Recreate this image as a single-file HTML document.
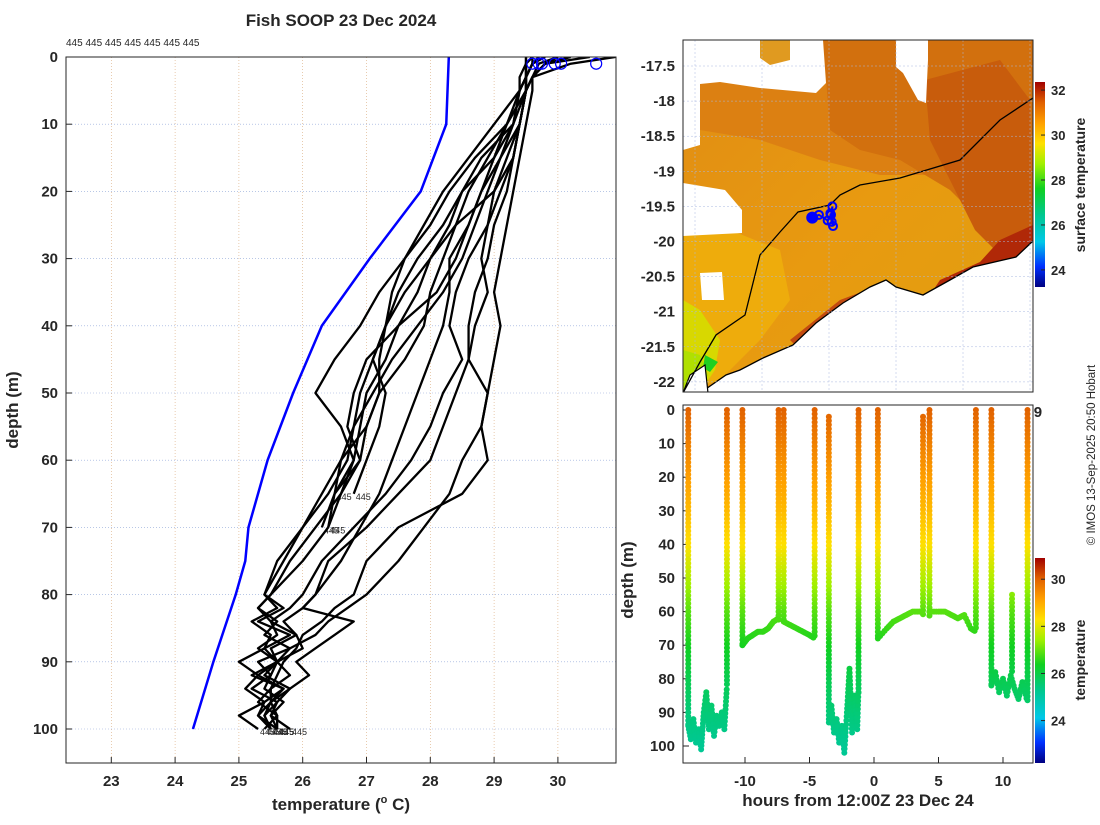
<!DOCTYPE html>
<html><head><meta charset="utf-8"><style>
body{margin:0;background:#fff}
svg text{font-family:"Liberation Sans","DejaVu Sans",sans-serif;fill:#262626}
.tk{font-size:15px;font-weight:bold}
</style></head><body>
<svg id="s" width="1100" height="820" viewBox="0 0 1100 820" xmlns="http://www.w3.org/2000/svg">
<defs>
<linearGradient id="cm" x1="0" y1="1" x2="0" y2="0">
<stop offset="0" stop-color="#000080"/><stop offset="0.1" stop-color="#0030ff"/><stop offset="0.22" stop-color="#00c8e8"/><stop offset="0.35" stop-color="#00c890"/><stop offset="0.48" stop-color="#10d020"/><stop offset="0.6" stop-color="#a0f000"/><stop offset="0.7" stop-color="#ffe000"/><stop offset="0.8" stop-color="#ffa000"/><stop offset="0.9" stop-color="#e06000"/><stop offset="1" stop-color="#a00000"/>
</linearGradient>
<linearGradient id="seaL" x1="0" y1="0" x2="1" y2="1">
<stop offset="0" stop-color="#e08c14"/><stop offset="0.5" stop-color="#e89a10"/><stop offset="1" stop-color="#e0a010"/>
</linearGradient>
<clipPath id="mapclip"><rect x="683" y="40" width="350" height="352"/></clipPath>
<clipPath id="lclip"><rect x="66" y="57" width="550" height="706"/></clipPath>
</defs>
<g id="left"></g>
<g id="map"></g>
<g id="bot"></g>
<text x="341" y="26" text-anchor="middle" style="font-size:17px;font-weight:bold">Fish SOOP 23 Dec 2024</text>
<text x="66" y="46" style="font-size:10px">445 445 445 445 445 445 445</text>
<text transform="translate(18,410) rotate(-90)" text-anchor="middle" class="tk" style="font-size:17px">depth (m)</text>
<text x="341" y="810" text-anchor="middle" class="tk" style="font-size:17px">temperature (<tspan dy="-7" style="font-size:11px">o</tspan><tspan dy="7"> C)</tspan></text>
<text transform="translate(633,580) rotate(-90)" text-anchor="middle" class="tk" style="font-size:17px">depth (m)</text>
<text x="858" y="806" text-anchor="middle" class="tk" style="font-size:17px">hours from 12:00Z 23 Dec 24</text>
<text transform="translate(1085,185) rotate(-90)" text-anchor="middle" class="tk" style="font-size:14px">surface temperature</text>
<text transform="translate(1085,660) rotate(-90)" text-anchor="middle" class="tk" style="font-size:14px">temperature</text>
<text transform="translate(1095,455) rotate(-90)" text-anchor="middle" style="font-size:11.5px">© IMOS 13-Sep-2025 20:50 Hobart</text>
</svg>
<script>
// ---------- data: left profile plot ----------
const depthGrid=[0,1,3,5,10,15,20,25,30,35,40,45,50,55,60,65,70,75,80,82,84,86,88,90,92,94,96,98,100];
const blueDepths=[0,10,20,30,40,50,60,70,75,80,90,100];
const blueTemps=[28.29,28.25,27.85,27.05,26.3,25.85,25.45,25.15,25.1,24.95,24.6,24.28];
const prof1=[30.9,30.2,29.6,29.5,29.4,29.1,28.8,28.6,28.4,28.1,27.5,27.0,26.8,26.7,26.9,26.5];
const prof2=[30.5,29.8,29.6,29.5,29.3,29.0,28.5,28.2,27.8,27.5,27.3,27.2,27.2,27.0,26.6,26.5,26.4];
const prof3=[30.0,29.7,29.6,29.5,29.2,28.7,28.3,28.0,27.6,27.2,26.9,26.5,26.2,26.6,26.8,26.5,26.3];
const prof4=[29.7,29.6,29.5,29.5,29.4,29.3,29.0,28.4,28.0,27.6,27.3,27.1,27.3,27.2,27.0,26.8];
const prof5=[30.0,29.8,29.6,29.6,29.5,29.4,29.3,29.2,29.1,29.0,29.1,29.0,28.9,28.8,28.9,28.5,27.5,27.0,26.8,26.5,26.3,26.0,25.9,25.7,25.6,25.5,25.5,25.4,25.5];
const prof6=[29.7,29.6,29.5,29.5,29.4,29.2,29.0,28.9,28.8,28.9,28.7,28.6,28.9,28.8,28.5,28.3,27.9,27.5,27.0,26.7,26.4,26.2,25.8,25.6,25.5,25.4,25.7,25.5,25.6];
const prof7=[29.6,29.5,29.5,29.4,29.2,29.0,28.8,28.6,28.3,28.3,28.2,28.0,27.8,27.6,27.4,27.2,26.9,26.6,26.2,26.0,25.7,25.9,25.5,25.6,25.3,25.7,25.4,25.3,25.5];
const prof8=[29.5,29.5,29.4,29.4,29.3,28.8,28.5,28.3,28.0,27.8,27.5,27.3,27.0,26.9,26.8,26.6,26.4,26.0,25.5,25.3,25.6,25.4,25.8,25.3,25.5,25.2,25.6,25.4,25.5];
const prof9=[29.6,29.6,29.5,29.5,29.4,29.3,29.1,28.9,28.6,28.4,28.3,28.5,28.2,28.0,27.7,27.3,26.8,26.3,26.0,25.8,25.5,25.9,26.0,25.6,25.8,25.5,25.3,25.6,25.4];
const prof10=[29.5,29.5,29.5,29.4,29.0,28.6,28.2,27.9,27.6,27.4,27.3,27.1,26.9,26.8,26.7,26.4,26.0,25.6,25.4,25.6,25.2,25.5,25.4,25.0,25.3,25.1,25.4,25.0,25.3];
const prof11=[29.8,29.6,29.5,29.5,29.4,29.3,29.2,29.0,28.9,28.7,28.6,28.6,28.4,28.2,28.0,27.5,27.0,26.4,26.2,26.0,26.8,26.5,26.2,25.9,26.1,25.8,25.6,25.5,25.8];
const prof12=[30.2,29.8,29.6,29.5,29.2,28.9,28.6,28.4,28.2,28.0,27.9,27.6,27.2,27.0,26.9,26.6,26.2,25.8,25.5,25.3,25.5,25.6,25.3,25.6,25.4,25.8,25.5,25.6,25.6];
const prof13=[29.6,29.5,29.5,29.4,29.3,29.1,28.9,28.7,28.5,28.2,27.8,27.4,27.1,26.8,26.6,26.3,26.0,25.7,25.4,25.7,25.3,25.8,25.4,25.6,25.2,25.7,25.5,25.3,25.6];
const surfTemps=[29.6,29.7,29.75,29.95,30.05,30.6];
const leftXTicks=[23,24,25,26,27,28,29,30];
const leftYTicks=[0,10,20,30,40,50,60,70,80,90,100];
// ---------- data: depth-time plot ----------
const castHours=[-14.4,-11.4,-10.2,-7.4,-7.0,-4.6,-3.5,-1.2,0.3,3.8,4.3,7.9,9.1,10.7,11.9];
const castTop=[0,0,0,0,0,0,2,0,0,2,0,0,0,55,0];
const castBottom=[94,82,70,63,63,68,93,85,68,62,62,66,82,78,87];
const trackHours=[
 [-14.4,-14.2,-14.0,-13.8,-13.6,-13.4,-13.2,-13.0,-12.8,-12.6,-12.4,-12.2,-12.0,-11.8,-11.6,-11.4],
 [-3.5,-3.3,-3.1,-2.9,-2.7,-2.5,-2.3,-2.1,-1.9,-1.7,-1.5,-1.3,-1.2],
 [9.1,9.4,9.7,10.0,10.3,10.6,10.9,11.2,11.5,11.9],
 [-10.2,-9.8,-9.4,-9.0,-8.6,-8.2,-7.8,-7.4],
 [-7.0,-6.5,-6.0,-5.5,-5.0,-4.6],
 [0.3,1,1.5,2,2.5,3,3.5,3.8],
 [4.3,5,5.5,6,6.5,7,7.5,7.9]];
const trackDepths=[
 [94,98,92,99,95,101,90,84,95,88,97,91,94,90,95,82],
 [93,88,96,92,99,94,102,90,77,96,85,95,83],
 [82,78,84,80,85,79,83,86,81,87],
 [70,68,67,66,66,65,63,62],
 [63,64,65,66,67,68],
 [68,65,63,62,61,60,60,60],
 [60,60,60,61,62,61,65,66]];
const refDepth=[0,10,20,30,40,50,60,70,80,90,100];
const refTemp=[30.0,29.6,29.2,28.8,28.3,27.6,26.9,26.4,25.9,25.5,25.2];
const botXTicks=[-10,-5,0,5,10];
const botYTicks=[0,10,20,30,40,50,60,70,80,90,100];
const cbTicks=[24,26,28,30];
// ---------- data: map ----------
const latTicks=[-17.5,-18,-18.5,-19,-19.5,-20,-20.5,-21,-21.5,-22];
const lonTicks=[114,115,116,117,118,119];
const sstTicks=[24,26,28,30,32];
const shipLon=[115.75,115.85,115.98,116.03,116.05,116.06,116.04,116.02];
const shipLat=[-19.66,-19.62,-19.7,-19.62,-19.5,-19.78,-19.72,-19.6];

const NS='http://www.w3.org/2000/svg';
function mk(parent,tag,attrs,txt){const e=document.createElementNS(NS,tag);for(const k in attrs)e.setAttribute(k,attrs[k]);if(txt!==undefined)e.textContent=txt;parent.appendChild(e);return e;}
const stops=[[0,[0,0,128]],[0.1,[0,48,255]],[0.22,[0,200,232]],[0.35,[0,200,144]],[0.48,[16,208,32]],[0.6,[160,240,0]],[0.7,[255,224,0]],[0.8,[255,160,0]],[0.9,[224,96,0]],[1,[160,0,0]]];
function cmap(f){f=Math.max(0,Math.min(1,f));for(let i=1;i<stops.length;i++){if(f<=stops[i][0]){const a=stops[i-1],b=stops[i];const t=(f-a[0])/(b[0]-a[0]);const c=a[1].map((v,j)=>Math.round(v+(b[1][j]-v)*t));return `rgb(${c[0]},${c[1]},${c[2]})`;}}return 'rgb(160,0,0)';}
function interp(xs,ys,x){if(x<=xs[0])return ys[0];for(let i=1;i<xs.length;i++){if(x<=xs[i]){const t=(x-xs[i-1])/(xs[i]-xs[i-1]);return ys[i-1]+(ys[i]-ys[i-1])*t;}}return ys[ys.length-1];}

// ================= LEFT =================
const L=document.getElementById('left');
const lx=t=>66+(t-22.29)*63.8, ly=d=>57+d*6.72;
mk(L,'rect',{x:66,y:57,width:550,height:706,fill:'#fff'});
leftXTicks.forEach(t=>{const g=mk(L,'line',{x1:lx(t),x2:lx(t),y1:57,y2:763,stroke:'#d9a97a','stroke-width':0.6,'stroke-dasharray':'1,2'});
 const tx=mk(L,'text',{x:lx(t),y:786,'text-anchor':'middle',class:'tk'},t);
 mk(L,'line',{x1:lx(t),x2:lx(t),y1:763,y2:757,stroke:'#262626'});});
leftYTicks.forEach(d=>{const g=mk(L,'line',{x1:66,x2:616,y1:ly(d),y2:ly(d),stroke:'#8fa6d8','stroke-width':0.6,'stroke-dasharray':'1,2'});
 const tx=mk(L,'text',{x:58,y:ly(d)+5,'text-anchor':'end',class:'tk'},d);
 mk(L,'line',{x1:66,x2:72,y1:ly(d),y2:ly(d),stroke:'#262626'});});
const LG=mk(L,'g',{'clip-path':'url(#lclip)'});
let bp=blueTemps.map((t,i)=>lx(t)+','+ly(blueDepths[i])).join(' ');
const bl=mk(LG,'polyline',{points:bp,fill:'none',stroke:'#0000ff','stroke-width':2.5});


[prof1,prof2,prof3,prof4,prof5,prof6,prof7,prof8,prof9,prof10,prof11,prof12,prof13].forEach((p,k)=>{
 const pts=p.map((t,i)=>lx(t)+','+ly(depthGrid[i])).join(' ');
 const pl=mk(LG,'polyline',{points:pts,fill:'none',stroke:'#000','stroke-width':2.3,'stroke-linejoin':'round'});
 
 
 const last=p.length-1;
 const lb=mk(LG,'text',{x:lx(p[last])+2,y:ly(depthGrid[last])+6,style:'font-size:9px'},'445');
 
 
});
surfTemps.forEach(t=>{const c=mk(LG,'circle',{cx:lx(t),cy:ly(1),r:5.5,fill:'none',stroke:'#0000ff','stroke-width':1.2});
 
 });
mk(L,'rect',{x:66,y:57,width:550,height:706,fill:'none',stroke:'#262626','stroke-width':1});

// ================= MAP =================
const M=document.getElementById('map');
const mx=lon=>695+(lon-114)*67, my=lat=>66+(-17.5-lat)*70.2;
latTicks.forEach(l=>{const tx=mk(M,'text',{x:675,y:my(l)+5,'text-anchor':'end',class:'tk'},l);});
lonTicks.forEach(l=>{const tx=mk(M,'text',{x:mx(l),y:417,'text-anchor':'middle',class:'tk'},l);});
const MG=mk(M,'g',{'clip-path':'url(#mapclip)'});
mk(MG,'rect',{x:683,y:40,width:350,height:352,fill:'#fff'});
const sea=mk(MG,'rect',{x:683,y:40,width:350,height:352,fill:'url(#seaL)'});


mk(MG,'polygon',{points:'683,40 1033,40 1033,200 960,175 880,175 820,160 760,140 700,130 683,130',fill:'#dc8012'});
mk(MG,'polygon',{points:'823,40 1033,40 1033,260 990,230 950,190 900,160 860,150 830,130',fill:'#d2700e'});
mk(MG,'polygon',{points:'925,80 1000,60 1030,100 1033,250 1000,255 975,230 950,180 930,140',fill:'#c85c0c'});
mk(MG,'polygon',{points:'1000,240 1033,225 1033,262 990,272 960,285 930,295 940,280 980,262',fill:'#b02808'});
mk(MG,'polygon',{points:'790,340 840,300 880,285 850,310 815,335 800,350',fill:'#c24a10'});
mk(MG,'polygon',{points:'683,235 730,230 780,250 790,300 760,340 720,380 683,392',fill:'#eeae0c',opacity:0.9});
mk(MG,'polygon',{points:'683,300 700,310 720,340 715,370 700,392 683,392',fill:'#d8d800'});
mk(MG,'polygon',{points:'683,350 700,355 708,375 698,392 683,392',fill:'#b0e000'});
mk(MG,'polygon',{points:'705,355 718,362 710,372 703,368',fill:'#20d020'});
['683,40 823,40 826,83 816,93 760,88 720,82 700,84 700,145 683,150','896,40 928,40 928,60 926,103 918,100 903,73 896,67','683,183 725,190 742,210 742,233 683,236','700,273 722,272 724,300 702,300'].forEach(p=>mk(MG,'polygon',{points:p,fill:'#fff'}));
mk(MG,'polygon',{points:'760,40 790,40 790,60 770,65 760,58',fill:'#e09a20'});
const land=mk(MG,'polygon',{points:'700,393 726,375 740,370 763,358 793,345 816,323 843,303 870,287 886,280 896,287 923,295 950,280 973,267 1016,257 1034,240 1034,393',fill:'#fff',stroke:'#000','stroke-width':1.3});


mk(MG,'polygon',{points:'683,393 690,375 705,365 708,393',fill:'#fff',stroke:'#000','stroke-width':1.2});
const iso=mk(MG,'polyline',{points:'683,393 700,362 716,335 745,315 760,255 780,232 798,212 830,205 840,195 860,185 900,178 960,160 1000,120 1033,98',fill:'none',stroke:'#000','stroke-width':1.3});


lonTicks.forEach(l=>mk(MG,'line',{x1:mx(l),x2:mx(l),y1:40,y2:392,stroke:'#aab8e0','stroke-width':0.5,'stroke-dasharray':'2,2'}));
latTicks.forEach(l=>mk(MG,'line',{x1:683,x2:1033,y1:my(l),y2:my(l),stroke:'#aab8e0','stroke-width':0.5,'stroke-dasharray':'2,2'}));
const trk=mk(MG,'polyline',{points:shipLon.map((o,i)=>mx(o)+','+my(shipLat[i])).join(' '),fill:'none',stroke:'#0000ff','stroke-width':2});


shipLon.forEach((o,i)=>{const c=mk(MG,'circle',{cx:mx(o),cy:my(shipLat[i]),r:i==0?5:4,fill:i==0?'#0000ff':'none',stroke:'#0000ff','stroke-width':2});
 
 });
mk(M,'rect',{x:683,y:40,width:350,height:352,fill:'none',stroke:'#262626'});
const cb1=mk(M,'rect',{x:1035,y:82,width:10,height:205,fill:'url(#cm)'});


const cy1=t=>82+(32.36-t)/(32.36-23.24)*205;
sstTicks.forEach(t=>{mk(M,'line',{x1:1041,x2:1045,y1:cy1(t),y2:cy1(t),stroke:'#262626'});
 const tx=mk(M,'text',{x:1051,y:cy1(t)+5,class:'tk',style:'font-size:13px'},t);});

// ================= BOTTOM =================
const B=document.getElementById('bot');
const bx=h=>874+h*12.9, by=d=>410+d*3.36;
mk(B,'rect',{x:683,y:405,width:350,height:358,fill:'#fff'});
botXTicks.forEach(h=>{mk(B,'line',{x1:bx(h),x2:bx(h),y1:763,y2:757,stroke:'#262626'});
 const tx=mk(B,'text',{x:bx(h),y:786,'text-anchor':'middle',class:'tk'},h);});
botYTicks.forEach(d=>{mk(B,'line',{x1:683,x2:689,y1:by(d),y2:by(d),stroke:'#262626'});
 const tx=mk(B,'text',{x:675,y:by(d)+5,'text-anchor':'end',class:'tk'},d);});
const tempAt=d=>interp(refDepth,refTemp,d);
const fOf=t=>(t-22.2)/(30.9-22.2);
function dot(h,d){const c=mk(B,'circle',{cx:bx(h),cy:by(d),r:3,fill:cmap(fOf(tempAt(d)))});
 
 }
castHours.forEach((h,i)=>{for(let d=castTop[i];d<=castBottom[i];d+=1.2)dot(h,d);});
trackHours.forEach((hs,k)=>{const ds=trackDepths[k];for(let i=1;i<hs.length;i++){const n=Math.max(4,Math.ceil(Math.abs(ds[i]-ds[i-1])/1.2));for(let s=0;s<n;s++){const t=s/n;dot(hs[i-1]+(hs[i]-hs[i-1])*t,ds[i-1]+(ds[i]-ds[i-1])*t);}}});
mk(B,'rect',{x:683,y:405,width:350,height:358,fill:'none',stroke:'#262626'});
const cb2=mk(B,'rect',{x:1035,y:558,width:10,height:205,fill:'url(#cm)'});


const cy2=t=>763-(t-22.2)/(30.9-22.2)*205;
cbTicks.forEach(t=>{mk(B,'line',{x1:1041,x2:1045,y1:cy2(t),y2:cy2(t),stroke:'#262626'});
 const tx=mk(B,'text',{x:1051,y:cy2(t)+5,class:'tk',style:'font-size:13px'},t);});
</script>
</body></html>
